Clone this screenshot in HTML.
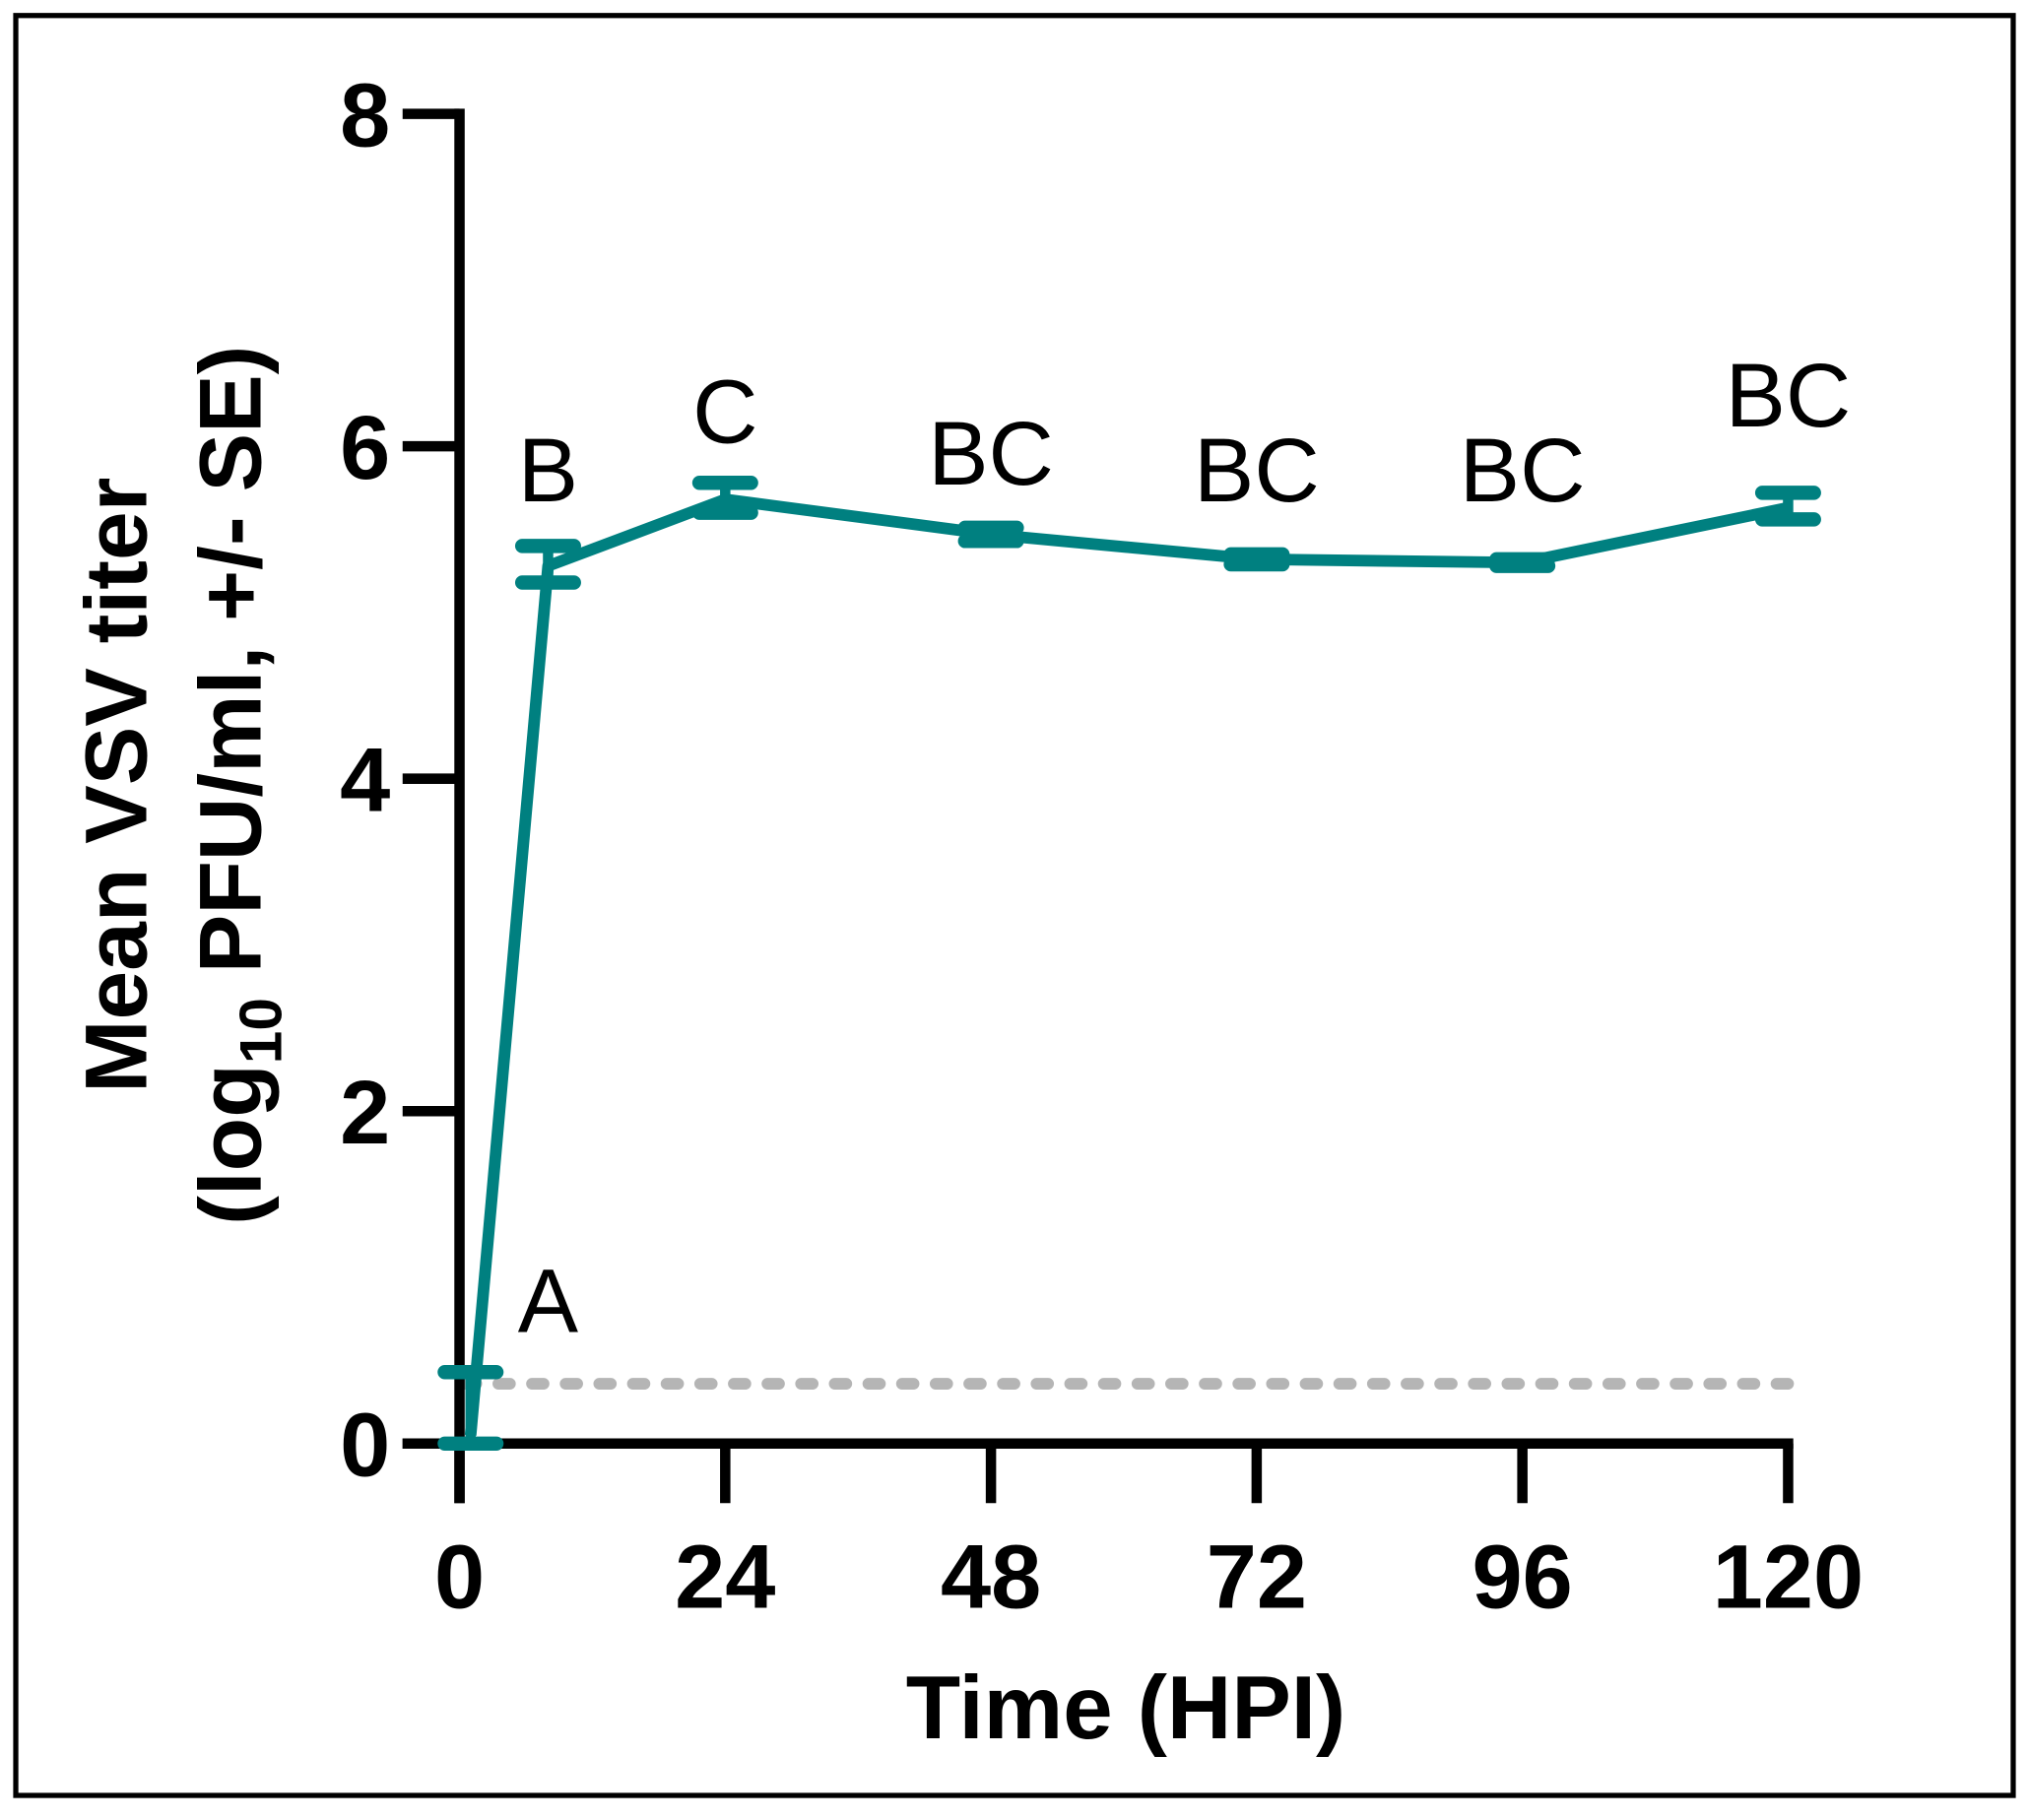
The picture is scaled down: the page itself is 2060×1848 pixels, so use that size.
<!DOCTYPE html>
<html><head><meta charset="utf-8"><style>
html,body{margin:0;padding:0;background:#fff;}
svg{display:block;}
text{font-family:"Liberation Sans",Arial,sans-serif;}
</style></head><body>
<svg id="chart" width="2060" height="1848" viewBox="0 0 1568 1407" xmlns="http://www.w3.org/2000/svg">
<rect x="12" y="12" width="1544" height="1376" fill="#fff" stroke="#000" stroke-width="4"/>
<g id="plot"></g>
</svg>
<script>
const times=[1,8,24,48,72,96,120];
const means=[0.05,5.28,5.68,5.47,5.32,5.30,5.63];
const errLo=[0,5.18,5.6,5.43,5.29,5.28,5.56];
const errHi=[0.43,5.4,5.78,5.51,5.35,5.32,5.72];
const letters=["A","B","C","BC","BC","BC","BC"];
const letterT=[8,8,24,48,72,96,120];
const letterY=[0.67,5.67,6.02,5.77,5.67,5.67,6.12];
const xTicks=[0,24,48,72,96,120];
const yTicks=[0,2,4,6,8];
const lod=0.36;

const NS="http://www.w3.org/2000/svg";
const g=document.getElementById('plot');
const X0=355,X1=1382,Y0=1116,Y8=88;
const xs=t=>X0+(t/120)*(X1-X0);
const ys=v=>Y0-(v/8)*(Y0-Y8);
function mk(tag,attrs,parent){const e=document.createElementNS(NS,tag);for(const k in attrs)e.setAttribute(k,attrs[k]);(parent||g).appendChild(e);return e;}

let l=mk('line',{x1:xs(0)+4,x2:xs(120),y1:ys(lod),y2:ys(lod),stroke:'#b5b5b5','stroke-width':9,'stroke-dasharray':'9 17','stroke-linecap':'round'});



let ya=mk('line',{x1:X0,x2:X0,y1:Y8-4,y2:Y0+46,stroke:'#000','stroke-width':8});


let xa=mk('line',{x1:X0-44,x2:X1+4,y1:Y0,y2:Y0,stroke:'#000','stroke-width':8});


yTicks.forEach(v=>{
  let t=mk('line',{x1:X0-44,x2:X0,y1:ys(v),y2:ys(v),stroke:'#000','stroke-width':8});
  
  
  let tx=mk('text',{x:282,y:ys(v)+25,'text-anchor':'middle','font-size':70,'font-weight':'bold'});
  tx.textContent=v;
  
  
});
xTicks.forEach(v=>{
  let t=mk('line',{x1:xs(v),x2:xs(v),y1:Y0,y2:Y0+46,stroke:'#000','stroke-width':8});
  
  
  let tx=mk('text',{x:xs(v),y:1243,'text-anchor':'middle','font-size':70,'font-weight':'bold'});
  tx.textContent=v;
  
  
});

let pts=times.map((t,i)=>xs(t)+','+ys(means[i])).join(' ');
let pl=mk('polyline',{points:pts,fill:'none',stroke:'#008080','stroke-width':9,'stroke-linejoin':'round'});



times.forEach((t,i)=>{
  const x=xs(t);
  let v=mk('line',{x1:x,x2:x,y1:ys(errLo[i]),y2:ys(errHi[i]),stroke:'#008080','stroke-width':8});
  
  
  [errLo[i],errHi[i]].forEach(e=>{
    let c=mk('line',{x1:x-20,x2:x+20,y1:ys(e),y2:ys(e),stroke:'#008080','stroke-width':11,'stroke-linecap':'round'});
    
    
  });
});
letters.forEach((s,i)=>{
  let tx=mk('text',{x:xs(letterT[i]),y:ys(letterY[i]),'text-anchor':'middle','font-size':70});
  tx.textContent=s;
  
  
});

let xt=mk('text',{x:870,y:1344,'text-anchor':'middle','font-size':69,'font-weight':'bold'});
xt.textContent='Time (HPI)';


let yt=mk('text',{transform:'translate(113,607) rotate(-90)','text-anchor':'middle','font-size':68,'font-weight':'bold'});
yt.textContent='Mean VSV titer';


let yt2=mk('text',{transform:'translate(201,607) rotate(-90)','text-anchor':'middle','font-size':68,'font-weight':'bold'});
yt2.innerHTML='(log<tspan font-size="46" dy="16">10</tspan><tspan dy="-16"> PFU/ml, +/- SE)</tspan>';


</script>
</body></html>
